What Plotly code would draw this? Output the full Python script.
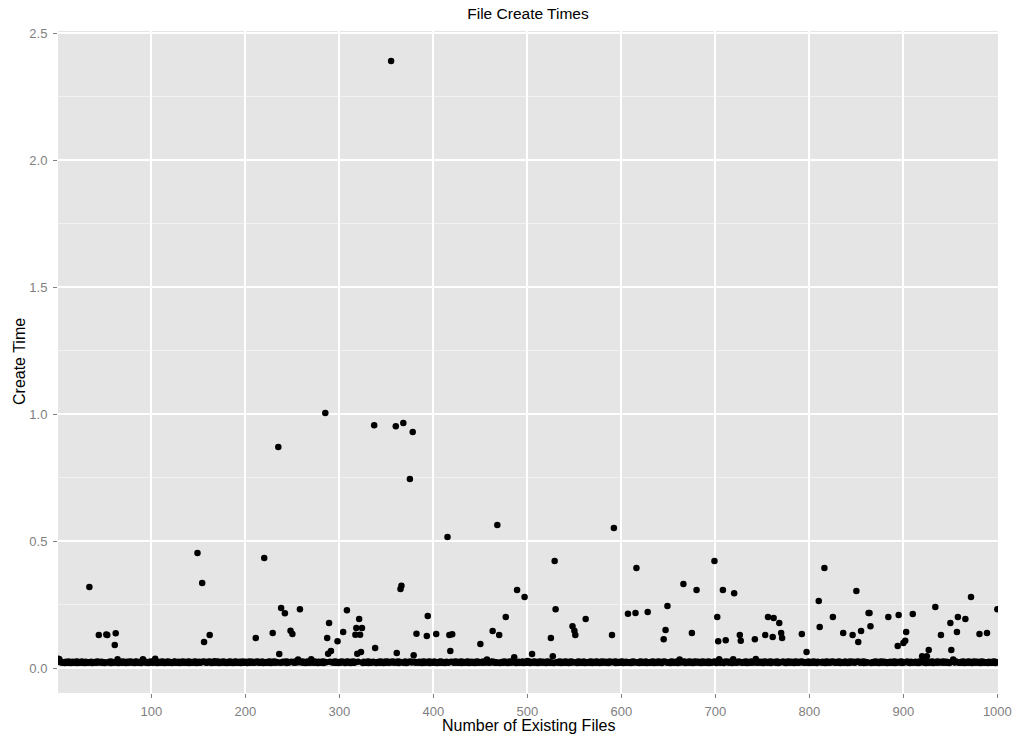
import plotly.graph_objects as go

# Baseline band: one digit per file count (1..1000); value = 0.0200 + digit * 0.0011
band_digits = "".join([
    "9645324153 2641352436 1524362415 3246351243 5261435241",
    "3524361524 3526143526 3415236452 3156423514 2635241536",
    "4253615243 6251436252 4135624351 4263524361 5243526143",
    "5243615243 6251437253 6142536241 3526341526 3425136245",
    "3152643524 1635243615 2435261436 2534152635 4261534251",
    "4263514253 6241536241 3526431524 3615243625 1435263412",
    "5362415362 4153624135 2643152436 1524352614 3526341526",
    "3524163524 3615243526 1435263415 2643524163 5243615243",
    "6251436252 4135624351 4263524361 5243526143 5241536241",
    "3526431524 3615243526 1435263415 2643524163 5243615248",
    "2614352634 1526435241 6352436152 4352614352 6341526435",
    "2416352436 1524352614 3526341526 4352416352 4361524352",
    "6143526341 5264352416 3524361524 3526143526 3415264352",
    "4163524361 5243526143 5263415264 3524163524 3615243526",
    "1435263415 2643524163 5243615243 5261435263 4152643524",
    "1635243615 2435261435 2634152643 5241635243 6152435261",
    "4352634152 6435241635 2436152435 2614352634 1526435241",
    "6352436152 4352614352 6341526435 2416352436 1524352614",
    "3526341526 4352416352 4361524352 6143526341 5264352416",
    "3524361524 3526143526 3415264352 4163524361 5243526149",
]).replace(" ", "")

# Points that stand out from the band: (number of existing files, create time)
outlier_x = [1, 2, 34, 44, 52, 53, 61, 62, 64, 91, 104, 149, 154, 156, 162,
             211, 220, 229, 235, 236, 238, 242, 248, 250, 256, 258, 270, 285,
             287, 288, 289, 291, 298, 304, 308, 317, 318, 319, 321, 322, 323,
             324, 337, 338, 355, 360, 361, 365, 366, 368, 375, 378, 379, 382,
             393, 394, 403, 415, 417, 418, 420, 450, 457, 463, 468, 470, 477,
             486, 489, 497, 505, 525, 527, 529, 530, 548, 550, 551, 562, 590,
             592, 607, 615, 616, 628, 645, 647, 649, 662, 666, 675, 680, 699,
             702, 703, 704, 708, 711, 719, 720, 726, 727, 742, 743, 753, 756,
             761, 762, 768, 770, 771, 792, 797, 810, 811, 816, 825, 836, 846,
             850, 852, 855, 863, 864, 865, 884, 894, 895, 900, 902, 903, 910,
             920, 925, 927, 934, 940, 950, 951, 953, 957, 958, 966, 972, 981,
             989, 1000]
outlier_y = [0.038, 0.036, 0.320, 0.131, 0.133, 0.131, 0.092, 0.138, 0.036, 0.036, 0.038, 0.454, 0.336, 0.104, 0.131,
             0.119, 0.434, 0.139, 0.871, 0.056, 0.237, 0.217, 0.148, 0.135, 0.035, 0.233, 0.036, 1.005,
             0.119, 0.057, 0.178, 0.068, 0.107, 0.143, 0.229, 0.132, 0.159, 0.057, 0.194, 0.132, 0.064,
             0.159, 0.957, 0.080, 2.390, 0.953, 0.060, 0.312, 0.325, 0.965, 0.745, 0.930, 0.052, 0.136,
             0.127, 0.206, 0.135, 0.517, 0.131, 0.068, 0.134, 0.096, 0.035, 0.147, 0.564, 0.131, 0.202,
             0.044, 0.308, 0.281, 0.056, 0.119, 0.048, 0.422, 0.233, 0.166, 0.148, 0.131, 0.194, 0.131,
             0.552, 0.215, 0.218, 0.395, 0.222, 0.115, 0.151, 0.245, 0.035, 0.332, 0.139, 0.308, 0.422,
             0.202, 0.107, 0.036, 0.308, 0.111, 0.036, 0.296, 0.131, 0.109, 0.115, 0.037, 0.131, 0.202,
             0.123, 0.198, 0.178, 0.139, 0.119, 0.135, 0.064, 0.265, 0.163, 0.395, 0.202, 0.139, 0.131,
             0.304, 0.104, 0.147, 0.218, 0.218, 0.166, 0.202, 0.088, 0.210, 0.100, 0.109, 0.143, 0.214,
             0.048, 0.048, 0.072, 0.241, 0.131, 0.178, 0.072, 0.035, 0.143, 0.202, 0.194, 0.281, 0.135,
             0.139, 0.233]

x_ticks = [100, 200, 300, 400, 500, 600, 700, 800, 900, 1000]
y_ticks = [0.0, 0.5, 1.0, 1.5, 2.0, 2.5]

assert len(band_digits) == 1000, len(band_digits)
assert len(outlier_x) == len(outlier_y)

files = list(range(1, len(band_digits) + 1))
create_time = [0.0200 + int(d) * 0.0011 for d in band_digits]
for ox, oy in zip(outlier_x, outlier_y):
    create_time[ox - 1] = oy

fig = go.Figure(go.Scatter(
    x=files, y=create_time, mode="markers",
    marker=dict(color="black", size=6.5, line=dict(width=0)),
    hoverinfo="x+y",
))

FONT = "Liberation Sans, Arial, Helvetica, sans-serif"
fig.update_layout(
    width=1024, height=738,
    margin=dict(l=58, r=20, t=31, b=45),
    paper_bgcolor="white", plot_bgcolor="#E5E5E5",
    showlegend=False,
    font=dict(family=FONT, color="black"),
    title=dict(text="File Create Times", x=0.5, xref="paper", xanchor="center",
               y=1 - 14 / 738, yref="container", yanchor="middle",
               font=dict(size=15.5, color="black")),
    annotations=[
        dict(text="Number of Existing Files", x=0.5, y=0, xref="paper", yref="paper",
             xanchor="center", yanchor="middle", yshift=-32, showarrow=False,
             font=dict(size=16, color="black")),
        dict(text="Create Time", x=0, y=0.5, xref="paper", yref="paper",
             xanchor="center", yanchor="middle", xshift=-39, textangle=-90,
             showarrow=False, font=dict(size=16, color="black")),
    ],
)
fig.update_xaxes(
    range=[0.6, 1000.7], tickvals=x_ticks, ticktext=[str(v) for v in x_ticks],
    showgrid=True, gridcolor="white", gridwidth=1.6, zeroline=False, showline=False,
    ticks="outside", ticklen=4, tickcolor="#7F7F7F", tickwidth=1,
    tickfont=dict(size=13, color="#7F7F7F", family=FONT), ticklabelstandoff=2,
)
fig.update_yaxes(
    range=[-0.097, 2.508], tickvals=y_ticks, ticktext=[f"{v:.1f}" for v in y_ticks],
    showgrid=True, gridcolor="white", gridwidth=1.6, zeroline=False, showline=False,
    ticks="outside", ticklen=4, tickcolor="#7F7F7F", tickwidth=1,
    tickfont=dict(size=13, color="#7F7F7F", family=FONT), ticklabelstandoff=3,
    minor=dict(tickvals=[0.25, 0.75, 1.25, 1.75, 2.25], showgrid=True,
               gridcolor="#F2F2F2", gridwidth=0.8, ticks=""),
)

fig.write_html("out.html")
